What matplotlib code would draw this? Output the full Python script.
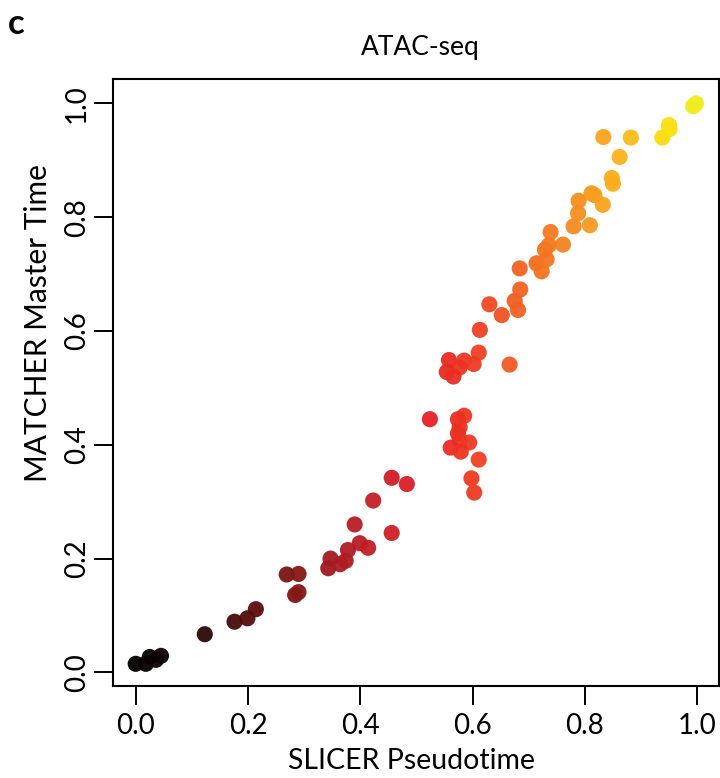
import matplotlib
matplotlib.use("Agg")
import matplotlib.pyplot as plt
from matplotlib.colors import LinearSegmentedColormap
import numpy as np

plt.rcParams['font.family'] = ['Lato', 'DejaVu Sans']

# SLICER pseudotime (x) and MATCHER master time (y)
slicer = [0.000, 0.018, 0.025, 0.036, 0.045, 0.123, 0.176, 0.199, 0.214, 0.269,
          0.290, 0.284, 0.290, 0.343, 0.347, 0.364, 0.374, 0.378, 0.390, 0.399,
          0.414, 0.423, 0.456, 0.456, 0.483, 0.524, 0.558, 0.585, 0.611, 0.602,
          0.577, 0.554, 0.566, 0.666, 0.585, 0.574, 0.577, 0.574, 0.577, 0.594,
          0.561, 0.579, 0.611, 0.598, 0.603, 0.613, 0.630, 0.652, 0.675, 0.681,
          0.685, 0.684, 0.714, 0.723, 0.732, 0.729, 0.736, 0.761, 0.739, 0.780,
          0.809, 0.788, 0.789, 0.812, 0.817, 0.832, 0.848, 0.850, 0.862, 0.833,
          0.882, 0.938, 0.950, 0.951, 0.993, 0.998]
matcher = [0.015, 0.015, 0.027, 0.022, 0.029, 0.067, 0.089, 0.095, 0.111, 0.172,
           0.173, 0.136, 0.141, 0.183, 0.200, 0.190, 0.196, 0.215, 0.260, 0.227,
           0.219, 0.302, 0.245, 0.342, 0.331, 0.445, 0.549, 0.548, 0.562, 0.542,
           0.536, 0.528, 0.520, 0.541, 0.451, 0.445, 0.431, 0.420, 0.408, 0.404,
           0.395, 0.388, 0.374, 0.341, 0.316, 0.602, 0.647, 0.628, 0.653, 0.637,
           0.673, 0.710, 0.719, 0.705, 0.726, 0.743, 0.751, 0.752, 0.774, 0.784,
           0.786, 0.807, 0.829, 0.842, 0.839, 0.822, 0.869, 0.859, 0.906, 0.941,
           0.940, 0.940, 0.962, 0.955, 0.995, 1.000]

x_ticks = [0.0, 0.2, 0.4, 0.6, 0.8, 1.0]
y_ticks = [0.0, 0.2, 0.4, 0.6, 0.8, 1.0]
tick_labels = ["0.0", "0.2", "0.4", "0.6", "0.8", "1.0"]

cmap = LinearSegmentedColormap.from_list("slicer", [
    (0.00, "#000000"), (0.12, "#2a0808"), (0.21, "#5c0c0c"), (0.30, "#8c1a1a"),
    (0.42, "#c41e28"), (0.52, "#e61e26"), (0.60, "#ee3a22"), (0.68, "#f26022"),
    (0.78, "#f68a20"), (0.86, "#fab01c"), (0.95, "#f8e010"), (1.00, "#f0ec1e")])

fig = plt.figure(figsize=(7.2, 7.78), dpi=100)
ax = fig.add_axes([112.7/720, 1-686/778, (719-112.7)/720, (686-79)/778])

ax.scatter(slicer, matcher, c=slicer, cmap=cmap, vmin=0, vmax=1, s=135,
           linewidths=0, alpha=0.95, zorder=3)

ax.set_xlim(-0.041, 1.039)
ax.set_ylim(-0.024, 1.043)
ax.set_xticks(x_ticks)
ax.set_xticklabels(tick_labels)
ax.set_yticks(y_ticks)
ax.set_yticklabels(tick_labels, rotation=90, va='center')
ax.tick_params(axis='both', direction='out', length=13.5, width=1.4,
               labelsize=20, color='black')
ax.tick_params(axis='x', pad=6)
ax.tick_params(axis='y', pad=3)
for sp in ax.spines.values():
    sp.set_linewidth(1.5)

fig.text(420/720, 1-48/778, "ATAC-seq", ha='center', va='center', fontsize=19)
fig.text(412/720, 1-761/778, "SLICER Pseudotime", ha='center', va='center', fontsize=20.5)
fig.text(38/720, 1-323/778, "MATCHER Master Time", ha='center', va='center',
         fontsize=21.5, rotation=90)
fig.text(16/720, 1-24/778, "c", ha='center', va='center', fontsize=25, fontweight='bold')

fig.savefig("out.png", dpi=100)
